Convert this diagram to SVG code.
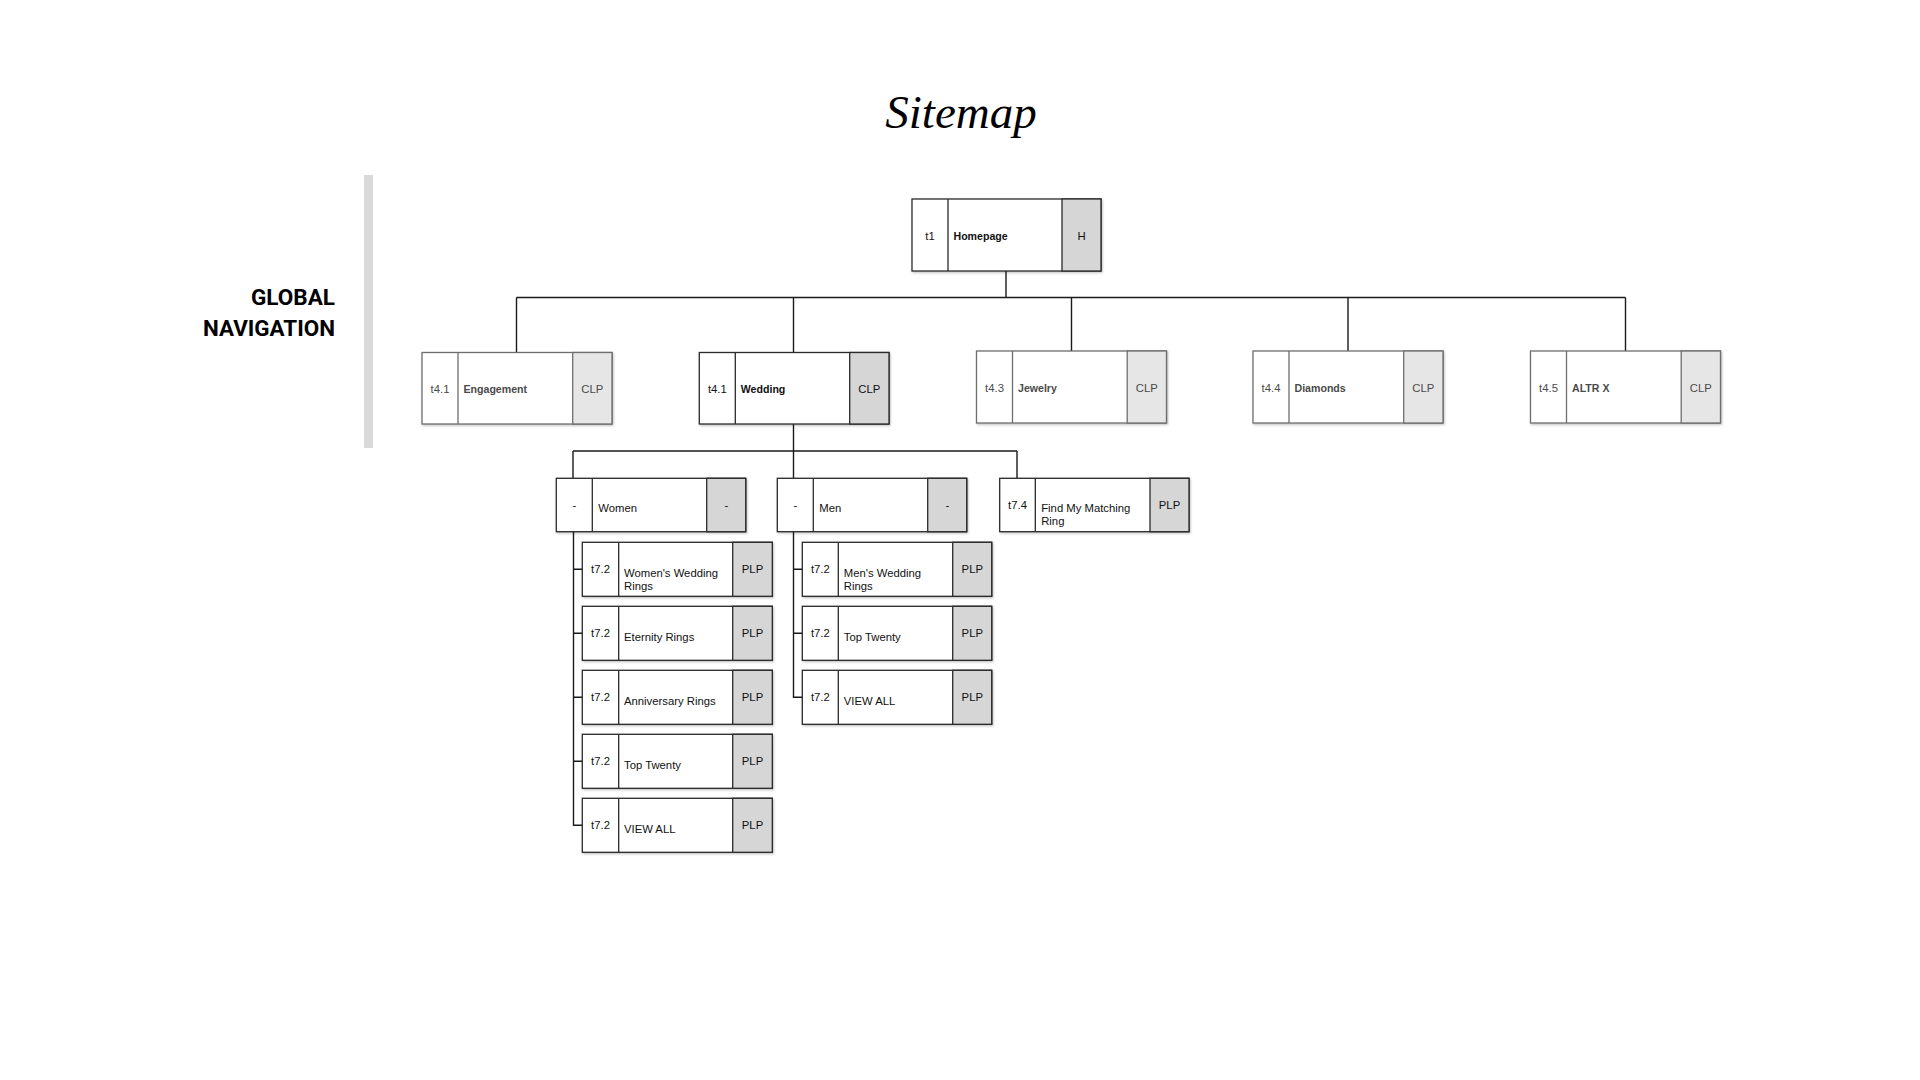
<svg xmlns="http://www.w3.org/2000/svg" width="1920" height="1080" viewBox="0 0 1920 1080">
<defs>
<filter id="sh" x="-5%" y="-5%" width="112%" height="120%">
<feDropShadow dx="1" dy="1.2" stdDeviation="0.8" flood-color="#000" flood-opacity="0.25"/>
</filter>
<style>
text{font-family:"Liberation Sans",Arial,sans-serif;font-size:11.3px;fill:#111}
.frame{fill:#fff;stroke:#2a2a2a;stroke-width:1.3}
.type{fill:#d6d6d6;stroke:#2a2a2a;stroke-width:1.3}
.div{stroke:#2a2a2a;stroke-width:1.3}
.c{text-anchor:middle}
.b{font-weight:bold;font-size:10.6px}
.dim .frame,.dim .div{stroke:#6e6e6e}
.dim .type{fill:#e6e6e6;stroke:#6e6e6e}
.dim text{fill:#4a4a4a}
.conn path{fill:none;stroke:#1a1a1a;stroke-width:1.4}
.title{font-family:"Liberation Serif","Times New Roman",serif;font-style:italic;font-size:47px;fill:#000;text-anchor:middle}
.nav{font-family:Roboto,"Liberation Sans",sans-serif;font-weight:bold;font-size:22px;fill:#000;text-anchor:end}
</style>
</defs>
<rect width="1920" height="1080" fill="#fff"/>
<text class="title" x="961" y="128">Sitemap</text>
<rect x="364" y="175" width="9" height="273" fill="#d9d9d9"/>
<text class="nav" x="335" y="305" textLength="84" lengthAdjust="spacingAndGlyphs">GLOBAL</text>
<text class="nav" x="335" y="336" textLength="132" lengthAdjust="spacingAndGlyphs">NAVIGATION</text>

<g class="conn" id="connectors">
<path d="M1006 271V297.5M516.5 297.5H1625.5M516.5 297.5V352.5M793.5 297.5V352.5M1071.5 297.5V351M1348 297.5V351M1625.5 297.5V351"/>
<path d="M793.5 424V451M573 451H1017M573 451V478.3M793.5 451V478.3M1017 451V478.3"/>
<path d="M573.5 531.7V825.3H582.3M573.5 569.3H582.3M573.5 633.3H582.3M573.5 697.3H582.3M573.5 761.3H582.3"/>
<path d="M793.5 531.7V697.3H802.3M793.5 569.3H802.3M793.5 633.3H802.3"/>
</g>

<g id="n-homepage" transform="translate(912,199)">
<rect class="frame" width="189" height="72" filter="url(#sh)"/>
<rect class="type" x="150" width="39" height="72"/>
<line class="div" x1="36" y1="0" x2="36" y2="72"/>
<text class="c" x="18" y="40.5">t1</text>
<text class="b" x="41.5" y="41">Homepage</text>
<text class="c" x="169.5" y="40.5">H</text>
</g>

<g id="n-engagement" class="dim" transform="translate(422,352.5)">
<rect class="frame" width="190" height="71.5" filter="url(#sh)"/>
<rect class="type" x="150.7" width="39.3" height="71.5"/>
<line class="div" x1="36" y1="0" x2="36" y2="71.5"/>
<text class="c" x="18" y="40.5">t4.1</text>
<text class="b" x="41.5" y="40.8">Engagement</text>
<text class="c" x="170.3" y="40.5">CLP</text>
</g>
<g id="n-wedding" transform="translate(699.3,352.5)">
<rect class="frame" width="189.7" height="71.5" filter="url(#sh)"/>
<rect class="type" x="150.4" width="39.3" height="71.5"/>
<line class="div" x1="36" y1="0" x2="36" y2="71.5"/>
<text class="c" x="18" y="40.5">t4.1</text>
<text class="b" x="41.5" y="40.8">Wedding</text>
<text class="c" x="170" y="40.5">CLP</text>
</g>
<g id="n-jewelry" class="dim" transform="translate(976.5,351)">
<rect class="frame" width="190" height="72" filter="url(#sh)"/>
<rect class="type" x="150.7" width="39.3" height="72"/>
<line class="div" x1="36" y1="0" x2="36" y2="72"/>
<text class="c" x="18" y="40.5">t4.3</text>
<text class="b" x="41.5" y="40.8">Jewelry</text>
<text class="c" x="170.3" y="40.5">CLP</text>
</g>
<g id="n-diamonds" class="dim" transform="translate(1253,351)">
<rect class="frame" width="190" height="72" filter="url(#sh)"/>
<rect class="type" x="150.7" width="39.3" height="72"/>
<line class="div" x1="36" y1="0" x2="36" y2="72"/>
<text class="c" x="18" y="40.5">t4.4</text>
<text class="b" x="41.5" y="40.8">Diamonds</text>
<text class="c" x="170.3" y="40.5">CLP</text>
</g>
<g id="n-altrx" class="dim" transform="translate(1530.5,351)">
<rect class="frame" width="190" height="72" filter="url(#sh)"/>
<rect class="type" x="150.7" width="39.3" height="72"/>
<line class="div" x1="36" y1="0" x2="36" y2="72"/>
<text class="c" x="18" y="40.5">t4.5</text>
<text class="b" x="41.5" y="40.8">ALTR X</text>
<text class="c" x="170.3" y="40.5">CLP</text>
</g>

<g id="n-women" transform="translate(556.3,478.3)">
<rect class="frame" width="189.4" height="53.4" filter="url(#sh)"/>
<rect class="type" x="150.4" width="39" height="53.4"/>
<line class="div" x1="36" y1="0" x2="36" y2="53.4"/>
<text class="c" x="18" y="31">-</text>
<text x="42" y="34">Women</text>
<text class="c" x="170" y="31">-</text>
</g>
<g id="n-men" transform="translate(777.3,478.3)">
<rect class="frame" width="189.4" height="53.4" filter="url(#sh)"/>
<rect class="type" x="150.4" width="39" height="53.4"/>
<line class="div" x1="36" y1="0" x2="36" y2="53.4"/>
<text class="c" x="18" y="31">-</text>
<text x="42" y="34">Men</text>
<text class="c" x="170" y="31">-</text>
</g>
<g id="n-find-my-matching-ring" transform="translate(999.7,478.3)">
<rect class="frame" width="189.3" height="53.4" filter="url(#sh)"/>
<rect class="type" x="150.3" width="39" height="53.4"/>
<line class="div" x1="35.6" y1="0" x2="35.6" y2="53.4"/>
<text class="c" x="17.8" y="30.5">t7.4</text>
<text x="41.5" y="34">Find My Matching<tspan x="41.5" dy="13">Ring</tspan></text>
<text class="c" x="169.8" y="30.5">PLP</text>
</g>

<g id="n-womens-wedding-rings" transform="translate(582.3,542.3)">
<rect class="frame" width="190" height="54" filter="url(#sh)"/>
<rect class="type" x="150.4" width="39.6" height="54"/>
<line class="div" x1="36.4" y1="0" x2="36.4" y2="54"/>
<text class="c" x="18.2" y="31">t7.2</text>
<text x="41.7" y="34.5">Women's Wedding<tspan x="41.7" dy="13">Rings</tspan></text>
<text class="c" x="170.2" y="31">PLP</text>
</g>
<g id="n-eternity-rings" transform="translate(582.3,606.3)">
<rect class="frame" width="190" height="54" filter="url(#sh)"/>
<rect class="type" x="150.4" width="39.6" height="54"/>
<line class="div" x1="36.4" y1="0" x2="36.4" y2="54"/>
<text class="c" x="18.2" y="31">t7.2</text>
<text x="41.7" y="34.5">Eternity Rings</text>
<text class="c" x="170.2" y="31">PLP</text>
</g>
<g id="n-anniversary-rings" transform="translate(582.3,670.3)">
<rect class="frame" width="190" height="54" filter="url(#sh)"/>
<rect class="type" x="150.4" width="39.6" height="54"/>
<line class="div" x1="36.4" y1="0" x2="36.4" y2="54"/>
<text class="c" x="18.2" y="31">t7.2</text>
<text x="41.7" y="34.5">Anniversary Rings</text>
<text class="c" x="170.2" y="31">PLP</text>
</g>
<g id="n-women-top-twenty" transform="translate(582.3,734.3)">
<rect class="frame" width="190" height="54" filter="url(#sh)"/>
<rect class="type" x="150.4" width="39.6" height="54"/>
<line class="div" x1="36.4" y1="0" x2="36.4" y2="54"/>
<text class="c" x="18.2" y="31">t7.2</text>
<text x="41.7" y="34.5">Top Twenty</text>
<text class="c" x="170.2" y="31">PLP</text>
</g>
<g id="n-women-view-all" transform="translate(582.3,798.3)">
<rect class="frame" width="190" height="54" filter="url(#sh)"/>
<rect class="type" x="150.4" width="39.6" height="54"/>
<line class="div" x1="36.4" y1="0" x2="36.4" y2="54"/>
<text class="c" x="18.2" y="31">t7.2</text>
<text x="41.7" y="34.5">VIEW ALL</text>
<text class="c" x="170.2" y="31">PLP</text>
</g>

<g id="n-mens-wedding-rings" transform="translate(802.3,542.3)">
<rect class="frame" width="189.4" height="54" filter="url(#sh)"/>
<rect class="type" x="150.4" width="39" height="54"/>
<line class="div" x1="36" y1="0" x2="36" y2="54"/>
<text class="c" x="18" y="31">t7.2</text>
<text x="41.5" y="34.5">Men's Wedding<tspan x="41.5" dy="13">Rings</tspan></text>
<text class="c" x="170" y="31">PLP</text>
</g>
<g id="n-men-top-twenty" transform="translate(802.3,606.3)">
<rect class="frame" width="189.4" height="54" filter="url(#sh)"/>
<rect class="type" x="150.4" width="39" height="54"/>
<line class="div" x1="36" y1="0" x2="36" y2="54"/>
<text class="c" x="18" y="31">t7.2</text>
<text x="41.5" y="34.5">Top Twenty</text>
<text class="c" x="170" y="31">PLP</text>
</g>
<g id="n-men-view-all" transform="translate(802.3,670.3)">
<rect class="frame" width="189.4" height="54" filter="url(#sh)"/>
<rect class="type" x="150.4" width="39" height="54"/>
<line class="div" x1="36" y1="0" x2="36" y2="54"/>
<text class="c" x="18" y="31">t7.2</text>
<text x="41.5" y="34.5">VIEW ALL</text>
<text class="c" x="170" y="31">PLP</text>
</g>
</svg>
